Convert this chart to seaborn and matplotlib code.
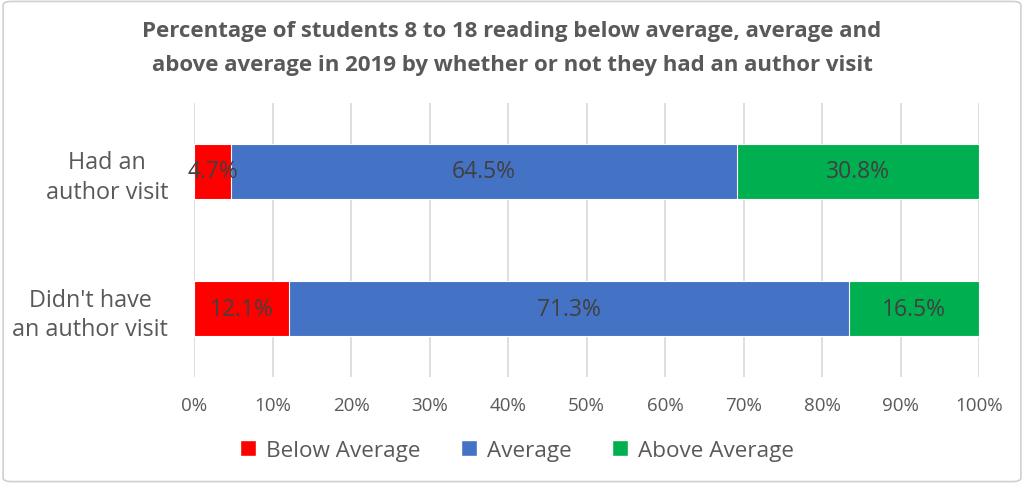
import pandas as pd
import matplotlib.pyplot as plt
import seaborn as sns
from matplotlib.patches import Patch, FancyBboxPatch

# Data
groups = ["Had an\nauthor visit", "Didn't have\nan author visit"]
series = ["Below Average", "Average", "Above Average"]
below = [4.7, 12.1]
average = [64.5, 71.3]
above = [30.8, 16.5]
colors = ["#FF0000", "#4472C4", "#00B050"]

df = pd.DataFrame({"group": groups, "Below Average": below,
                   "Average": average, "Above Average": above})
total = df[series].sum(axis=1)
for s in series:
    df[s + "_pct"] = df[s] / total * 100
df["cum1"] = df["Below Average_pct"]
df["cum2"] = df["cum1"] + df["Average_pct"]
df["cum3"] = df["cum2"] + df["Above Average_pct"]

sns.set_style("white")
plt.rcParams["font.family"] = ["Open Sans", "DejaVu Sans"]

fig = plt.figure(figsize=(10.24, 4.85), dpi=100)
ax = fig.add_axes([0.1895, 0.2206, 0.7666, 0.565])

# stacked bars: draw cumulative totals back to front
for col, c in zip(["cum3", "cum2", "cum1"], colors[::-1]):
    sns.barplot(data=df, x=col, y="group", color=c, width=0.4,
                edgecolor="white", linewidth=0.8, saturation=1, ax=ax, zorder=2)

# value labels in the middle of each segment
for i, row in df.iterrows():
    starts = [0, row["cum1"], row["cum2"]]
    for s, st in zip(series, starts):
        ax.text(st + row[s + "_pct"] / 2, i, f"{row[s]:.1f}%", ha="center",
                va="center", fontsize=16.5, color="#404040", zorder=3)

ax.set_xlim(0, 100)
ax.set_ylim(1.5, -0.5)
ax.set_xticks(range(0, 101, 10))
ax.set_xticklabels([f"{v}%" for v in range(0, 101, 10)], fontsize=13.5, color="#595959")
ax.tick_params(axis="y", labelsize=16.8, labelcolor="#595959", pad=18.5, length=0)
ax.tick_params(axis="x", pad=14, length=0)
for lbl in ax.get_yticklabels():
    lbl.set_multialignment("center")
    lbl.set_linespacing(1.3)
ax.xaxis.grid(True, color="#D9D9D9", linewidth=1.2, zorder=0)
ax.set_axisbelow(True)
for sp in ax.spines.values():
    sp.set_visible(False)
ax.set_xlabel("")
ax.set_ylabel("")

fig.text(0.5, 0.9, "Percentage of students 8 to 18 reading below average, average and\n"
         "above average in 2019 by whether or not they had an author visit",
         ha="center", va="center", fontsize=16, fontweight="bold",
         color="#595959", linespacing=1.75)

handles = [Patch(facecolor=c, label=s) for s, c in zip(series, colors)]
fig.legend(handles=handles, loc="center", bbox_to_anchor=(0.505, 0.07), ncol=3,
           frameon=False, fontsize=16.2, labelcolor="#595959", handlelength=0.7,
           handleheight=0.7, handletextpad=0.45, columnspacing=1.8)

border = FancyBboxPatch((0.003, 0.005), 0.994, 0.99, boxstyle="round,pad=0,rounding_size=0.008",
                        transform=fig.transFigure, fill=False, edgecolor="#D0D0D0", linewidth=1.2)
fig.patches.append(border)

fig.savefig("out.png", dpi=100)
